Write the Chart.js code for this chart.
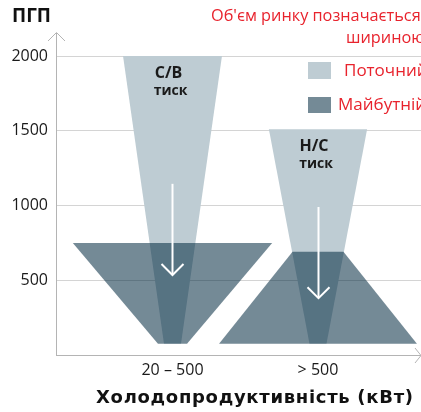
<!DOCTYPE html>
<html>
<head>
<meta charset="utf-8">
<script src="https://cdn.jsdelivr.net/npm/chart.js@4.4.0/dist/chart.umd.min.js"></script>
<style>
  html, body { margin: 0; padding: 0; background: #fff; }
  #wrap { width: 421px; height: 412px; }
</style>
</head>
<body>
<div id="wrap"><canvas id="chart"></canvas></div>
<script>
const categories = ['20 – 500', '> 500'];
const pressureLabels = ['С/В', 'Н/С'];
const seriesNames = ['Поточний', 'Майбутній'];
// top / bottom of each shape on the ПГП axis
const currentTop = [2000, 1510];
const currentBottom = [75, 75];
const futureTop = [750, 690];
const futureBottom = [75, 75];
// widths in category units = market volume
const currentTopWidth = [0.68, 0.675];
const currentBottomWidth = [0.117, 0.117];
const futureTopWidth = [1.37, 0.35];
const futureBottomWidth = [0.2, 1.36];
// arrows current -> future
const arrowFrom = [1145, 990];
const arrowTo = [535, 380];
const yTicks = [500, 1000, 1500, 2000];

const lightColor = 'rgb(190,204,211)';
const darkColor = 'rgba(0,41,63,0.545)';
const red = '#e8232d';
const font = '"Open Sans", "Noto Sans", sans-serif';

function trapezoid(cx, top, bottom, topW, bottomW) {
    return [
        { x: cx - topW / 2, y: top },
        { x: cx + topW / 2, y: top },
        { x: cx + bottomW / 2, y: bottom },
        { x: cx - bottomW / 2, y: bottom },
        { x: cx - topW / 2, y: top }
    ];
}

let datasets = [];
categories.forEach((c, i) => {
    datasets.push({
        label: seriesNames[0],
        data: trapezoid(i, currentTop[i], currentBottom[i], currentTopWidth[i], currentBottomWidth[i]),
        backgroundColor: lightColor,
        order: 2
    });
    datasets.push({
        label: seriesNames[1],
        data: trapezoid(i, futureTop[i], futureBottom[i], futureTopWidth[i], futureBottomWidth[i]),
        backgroundColor: darkColor,
        order: 1
    });
});
datasets.forEach(d => {
    d.showLine = true;
    d.fill = 'shape';
    d.borderWidth = 0;
    d.borderColor = 'rgba(0,0,0,0)';
    d.pointRadius = 0;
    d.tension = 0;
});

const decor = {
    id: 'decor',
    afterDatasetsDraw(chart) {
        const ctx = chart.ctx;
        const xs = chart.scales.x, ys = chart.scales.y;
        const area = chart.chartArea;
        ctx.save();

        // white arrows
        ctx.strokeStyle = '#fff';
        ctx.lineWidth = 2;
        categories.forEach((c, i) => {
            const x = Math.round(xs.getPixelForValue(i)) + 0.5;
            const y1 = ys.getPixelForValue(arrowFrom[i]);
            const y2 = ys.getPixelForValue(arrowTo[i]);
            ctx.beginPath();
            ctx.moveTo(x, y1);
            ctx.lineTo(x, y2 - 1);
            ctx.stroke();
            ctx.beginPath();
            ctx.moveTo(x - 11, y2 - 11);
            ctx.lineTo(x, y2);
            ctx.lineTo(x + 11, y2 - 11);
            ctx.stroke();
        });

        // pressure labels
        ctx.fillStyle = '#1a1a1a';
        ctx.textAlign = 'center';
        ctx.textBaseline = 'middle';
        categories.forEach((c, i) => {
            const x = xs.getPixelForValue(i) - 2;
            const top = ys.getPixelForValue(currentTop[i]);
            ctx.font = 'bold 16px ' + font;
            ctx.fillText(pressureLabels[i], x - 2, top + 17);
            ctx.font = 'bold 14px ' + font;
            ctx.fillText('тиск', x, top + 34.5);
        });

        // axis arrowheads
        ctx.strokeStyle = '#b4b4b4';
        ctx.lineWidth = 1;
        ctx.beginPath();
        ctx.moveTo(area.left - 8, area.top + 8);
        ctx.lineTo(area.left + 0.5, area.top - 0.5);
        ctx.lineTo(area.left + 9, area.top + 8);
        ctx.stroke();
        ctx.beginPath();
        ctx.moveTo(area.right - 6, area.bottom - 7);
        ctx.lineTo(area.right, area.bottom + 0.5);
        ctx.lineTo(area.right - 6, area.bottom + 8);
        ctx.stroke();

        // axis titles
        ctx.fillStyle = '#111';
        ctx.textAlign = 'left';
        ctx.font = 'bold 19px ' + font;
        ctx.fillText('ПГП', 12, 17);
        ctx.font = 'bold 18px "DejaVu Sans", sans-serif';
        ctx.letterSpacing = '0.7px';
        ctx.fillText('Холодопродуктивність (кВт)', 96, 398);
        ctx.letterSpacing = '0px';

        // note and legend
        ctx.fillStyle = red;
        ctx.font = '16.3px ' + font;
        ctx.fillText("Об'єм ринку позначається", 211, 16);
        ctx.fillText('шириною', 346, 38);

        ctx.fillStyle = lightColor;
        ctx.fillRect(308, 62, 23, 17);
        ctx.fillStyle = 'rgb(116,138,150)';
        ctx.fillRect(308, 97, 23, 16);
        ctx.fillStyle = red;
        ctx.font = '17px ' + font;
        ctx.fillText(seriesNames[0], 344, 71);
        ctx.fillText(seriesNames[1], 338, 105);
        ctx.restore();
    }
};

new Chart(document.getElementById('chart'), {
    type: 'scatter',
    data: { datasets: datasets },
    options: {
        responsive: true,
        maintainAspectRatio: false,
        animation: false,
        layout: { padding: { top: 33, left: 0, right: 0, bottom: 0 } },
        plugins: { legend: { display: false }, tooltip: { enabled: false } },
        scales: {
            x: {
                type: 'linear',
                min: -0.8007,
                max: 1.708,
                afterBuildTicks: s => { s.ticks = categories.map((c, i) => ({ value: i })); },
                afterFit: s => { s.height = 57; },
                ticks: {
                    callback: v => categories[v],
                    color: '#1a1a1a',
                    font: { family: font, size: 16 },
                    padding: 6,
                    maxRotation: 0
                },
                grid: { display: false, drawTicks: false },
                border: { display: true, color: '#b4b4b4', width: 1 }
            },
            y: {
                min: 0,
                max: 2154,
                afterBuildTicks: s => { s.ticks = yTicks.map(v => ({ value: v })); },
                afterFit: s => { s.width = 56; },
                ticks: {
                    callback: v => String(v),
                    color: '#1a1a1a',
                    font: { family: font, size: 16 },
                    padding: 8
                },
                grid: { color: '#d4d4d4', drawTicks: false, lineWidth: 1 },
                border: { display: true, color: '#b4b4b4', width: 1 }
            }
        }
    },
    plugins: [decor]
});
</script>
</body>
</html>
